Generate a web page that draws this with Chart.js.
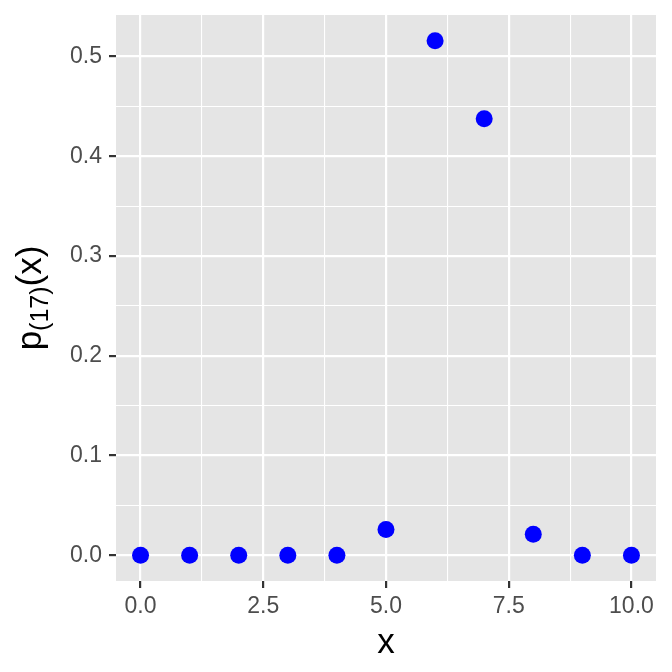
<!DOCTYPE html>
<html>
<head>
<meta charset="utf-8">
<script src="https://cdn.jsdelivr.net/npm/chart.js@4/dist/chart.umd.min.js"></script>
<style>
  html, body { margin: 0; padding: 0; background: #ffffff; }
  #wrap { width: 672px; height: 672px; }
</style>
</head>
<body>
<div id="wrap"><canvas id="pmfChart" width="672" height="672"></canvas></div>
<script>
// data
const xValues = [0, 1, 2, 3, 4, 5, 6, 7, 8, 9, 10];
const probs = [0, 0, 0, 0, 0, 0.0258, 0.5157, 0.4376, 0.021, 0, 0];

const xMajor = [0, 2.5, 5, 7.5, 10];
const xMinor = [1.25, 3.75, 6.25, 8.75];
const yMajor = [0, 0.1, 0.2, 0.3, 0.4, 0.5];
const yMinor = [0.05, 0.15, 0.25, 0.35, 0.45];

// ggplot style 5% expansion
const xLo = Math.min(...xValues), xHi = Math.max(...xValues);
const yLo = Math.min(...probs), yHi = Math.max(...probs);
const xPad = 0.05 * (xHi - xLo), yPad = 0.05 * (yHi - yLo);

const FONT = "'Liberation Sans', Arial, sans-serif";

function isMajor(list, v) {
    return list.some(m => Math.abs(m - v) < 1e-9);
}

// grey panel behind the grid
const panelBg = {
    id: 'panelBg',
    beforeDraw(chart) {
        const a = chart.chartArea;
        const ctx = chart.ctx;
        ctx.save();
        ctx.fillStyle = '#E5E5E5';
        ctx.fillRect(a.left, a.top, a.right - a.left, a.bottom - a.top);
        ctx.restore();
    }
};

// y title with subscript: p_(17)(x)
const yTitle = {
    id: 'yTitle',
    afterDraw(chart) {
        const a = chart.chartArea;
        const ctx = chart.ctx;
        const big = '35px ' + FONT, small = '25px ' + FONT;
        ctx.save();
        ctx.translate(41, (a.top + a.bottom) / 2);
        ctx.rotate(-Math.PI / 2);
        ctx.fillStyle = '#000000';
        ctx.textBaseline = 'alphabetic';
        ctx.textAlign = 'left';
        ctx.font = big;
        const w1 = ctx.measureText('p').width;
        const w3 = ctx.measureText('(x)').width;
        ctx.font = small;
        const w2 = ctx.measureText('(17)').width;
        let u = -(w1 + w2 + w3) / 2;
        ctx.font = big;
        ctx.fillText('p', u, 0);
        u += w1;
        ctx.font = small;
        ctx.fillText('(17)', u, 7);
        u += w2;
        ctx.font = big;
        ctx.fillText('(x)', u, 0);
        ctx.restore();
    }
};

const ctx = document.getElementById('pmfChart').getContext('2d');
new Chart(ctx, {
    type: 'scatter',
    data: {
        datasets: [{
                data: xValues.map((x, i) => ({x: x, y: probs[i]})),
                backgroundColor: '#0000FF',
                borderWidth: 0,
                pointRadius: 8.5,
                pointHoverRadius: 8.5
            }]
    },
    options: {
        responsive: false,
        animation: false,
        layout: {
            padding: {left: 0, right: 16, top: 15, bottom: 0}
        },
        plugins: {
            legend: {display: false},
            tooltip: {enabled: false}
        },
        scales: {
            x: {
                type: 'linear',
                min: xLo - xPad,
                max: xHi + xPad,
                afterBuildTicks: s => {
                    s.ticks = xMajor.concat(xMinor).sort((a, b) => a - b).map(v => ({value: v}));
                },
                afterFit: s => { s.height = 91; },
                border: {display: false},
                grid: {
                    color: '#FFFFFF',
                    lineWidth: c => isMajor(xMajor, c.tick.value) ? 2.2 : 1.1,
                    tickColor: c => isMajor(xMajor, c.tick.value) ? '#333333' : 'rgba(0,0,0,0)',
                    tickWidth: 2.2,
                    tickLength: 7
                },
                ticks: {
                    autoSkip: false,
                    maxRotation: 0,
                    padding: 5,
                    color: '#4D4D4D',
                    font: {family: FONT, size: 23},
                    callback: v => isMajor(xMajor, v) ? v.toFixed(1) : ''
                },
                title: {
                    display: true,
                    text: 'x',
                    color: '#000000',
                    font: {family: FONT, size: 35},
                    padding: {top: 0, bottom: 8}
                }
            },
            y: {
                type: 'linear',
                min: yLo - yPad,
                max: yHi + yPad,
                afterBuildTicks: s => {
                    s.ticks = yMajor.concat(yMinor).sort((a, b) => a - b).map(v => ({value: v}));
                },
                afterFit: s => {
                    s.width = 116;
                    s.paddingTop = 0;
                    s.paddingBottom = 0;
                },
                border: {display: false},
                grid: {
                    color: '#FFFFFF',
                    lineWidth: c => isMajor(yMajor, c.tick.value) ? 2.2 : 1.1,
                    tickColor: c => isMajor(yMajor, c.tick.value) ? '#333333' : 'rgba(0,0,0,0)',
                    tickWidth: 2.2,
                    tickLength: 7
                },
                ticks: {
                    autoSkip: false,
                    padding: 7,
                    color: '#4D4D4D',
                    font: {family: FONT, size: 23},
                    callback: v => isMajor(yMajor, v) ? v.toFixed(1) : ''
                }
            }
        }
    },
    plugins: [panelBg, yTitle]
});
</script>
</body>
</html>
